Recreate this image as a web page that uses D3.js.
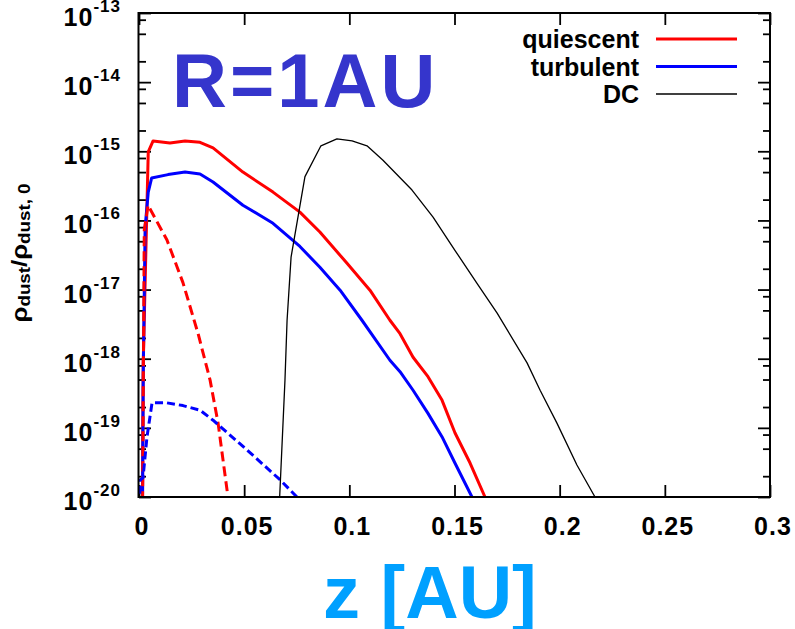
<!DOCTYPE html>
<html>
<head>
<meta charset="utf-8">
<script src="https://cdn.jsdelivr.net/npm/d3@7"></script>
<style>
  body { margin: 0; background: #fff; }
  text { font-family: "Liberation Sans", Arial, sans-serif; font-weight: bold; }
</style>
</head>
<body>
<div id="drawing_region"></div>
<script>
// values (z in AU, rho_dust / rho_dust,0)
var quiescentZ = [0.0016, 0.0020, 0.0044, 0.0067, 0.0147, 0.0219, 0.029, 0.0352, 0.0494, 0.0637, 0.0765, 0.086, 0.0989, 0.1098, 0.1193, 0.1241, 0.1303, 0.1374, 0.1441, 0.1502, 0.1574, 0.1645, 0.1660];
var quiescent  = [3.2e-21, 8.7e-19, 9.8e-16, 1.41e-15, 1.32e-15, 1.41e-15, 1.35e-15, 1.12e-15, 5.0e-16, 2.57e-16, 1.32e-16, 6.8e-17, 2.4e-17, 9.8e-18, 3.6e-18, 2.3e-18, 1.05e-18, 5.5e-19, 2.5e-19, 8.5e-20, 3.1e-20, 1.0e-20, 8.0e-21];

var quiescentSmallZ = [0.0016, 0.0025, 0.0043, 0.0133, 0.0209, 0.0281, 0.0338, 0.0376, 0.0423, 0.0435];
var quiescentSmall  = [3.2e-21, 7.2e-17, 1.66e-16, 5.2e-17, 1.26e-17, 2.3e-18, 4.9e-19, 1.17e-19, 1.0e-20, 5.0e-21];

var turbulentZ = [0.0016, 0.0020, 0.0029, 0.0044, 0.0060, 0.0138, 0.0219, 0.029, 0.0352, 0.0494, 0.0637, 0.0765, 0.086, 0.0956, 0.106, 0.1193, 0.1241, 0.1303, 0.1374, 0.1441, 0.1502, 0.1583, 0.1600];
var turbulent  = [3.2e-21, 5.5e-19, 7.9e-17, 2.57e-16, 4.1e-16, 4.6e-16, 5.0e-16, 4.7e-16, 3.6e-16, 1.66e-16, 9.1e-17, 4.2e-17, 2.1e-17, 9.8e-18, 3.6e-18, 9.5e-19, 6.5e-19, 3.5e-19, 1.62e-19, 7.4e-20, 3.1e-20, 1.0e-20, 8.0e-21];

var turbulentSmallZ = [0.0003, 0.0004, 0.0019, 0.0038, 0.0062, 0.0133, 0.0209, 0.029, 0.0352, 0.0513, 0.067, 0.0751, 0.0780];
var turbulentSmall  = [5.0e-21, 1.74e-20, 1.9e-20, 7.4e-20, 2.3e-19, 2.3e-19, 2.1e-19, 1.8e-19, 1.29e-19, 4.8e-20, 1.78e-20, 1.0e-20, 8.0e-21];

var dcZ = [0.0668, 0.0694, 0.0704, 0.0723, 0.0789, 0.0865, 0.0941, 0.1013, 0.1084, 0.116, 0.1298, 0.1398, 0.1502, 0.1607, 0.1702, 0.1845, 0.1907, 0.1987, 0.2082, 0.2168];
var dc  = [8.9e-21, 4.9e-19, 3.6e-18, 2.95e-17, 4.3e-16, 1.2e-15, 1.51e-15, 1.41e-15, 1.2e-15, 7.4e-16, 2.75e-16, 1.12e-16, 3.7e-17, 1.23e-17, 4.6e-18, 8.7e-19, 3.5e-19, 1.17e-19, 2.9e-20, 1.0e-20];

var xTicks = [0, 0.05, 0.1, 0.15, 0.2, 0.25, 0.3];
var xTickLabels = ["0", "0.05", "0.1", "0.15", "0.2", "0.25", "0.3"];
var yExponents = [-20, -19, -18, -17, -16, -15, -14, -13];
var yMinorMult = [2, 5, 8];
var legendNames = ["quiescent", "turbulent", "DC"];

var width = 795;
var height = 629;

var svg = d3.select("#drawing_region")
    .append("svg")
    .attr("width", width)
    .attr("height", height);

var xScale = d3.scaleLinear().domain([0, 0.3]).range([139, 770]);
var yScale = d3.scaleLog().domain([1e-20, 1e-13]).range([497, 13]);

var majorY = yExponents.map(function (e) { return Math.pow(10, e); });
var minorY = [];
majorY.slice(0, -1).forEach(function (v) {
    yMinorMult.forEach(function (m) { minorY.push(m * v); });
});

svg.append("defs").append("clipPath").attr("id", "plotclip")
    .append("rect")
    .attr("x", xScale(0)).attr("y", yScale(1e-13))
    .attr("width", xScale(0.3) - xScale(0))
    .attr("height", yScale(1e-20) - yScale(1e-13));

// ticks (inward, mirrored on all four sides)
function tickAxis(axis, tx, ty) {
    var g = svg.append("g")
        .attr("transform", "translate(" + tx + "," + ty + ")")
        .call(axis);
    g.select(".domain").remove();
    g.selectAll("line").attr("stroke", "#000").attr("stroke-width", 1.8);
    g.selectAll("text").remove();
}
tickAxis(d3.axisLeft(yScale).tickValues(majorY).tickSize(-12), xScale(0), 0);
tickAxis(d3.axisLeft(yScale).tickValues(minorY).tickSize(-7), xScale(0), 0);
tickAxis(d3.axisRight(yScale).tickValues(majorY).tickSize(-12), xScale(0.3), 0);
tickAxis(d3.axisRight(yScale).tickValues(minorY).tickSize(-7), xScale(0.3), 0);
tickAxis(d3.axisBottom(xScale).tickValues(xTicks).tickSize(-12), 0, yScale(1e-20));
tickAxis(d3.axisTop(xScale).tickValues(xTicks).tickSize(-12), 0, yScale(1e-13));

// curves
var series = [
    { z: quiescentZ,      v: quiescent,      color: "#ff0000", w: 3,   dash: null },
    { z: turbulentZ,      v: turbulent,      color: "#0000ff", w: 3,   dash: null },
    { z: quiescentSmallZ, v: quiescentSmall, color: "#ff0000", w: 3,   dash: "10,5" },
    { z: turbulentSmallZ, v: turbulentSmall, color: "#0000ff", w: 3,   dash: "8,4" },
    { z: dcZ,             v: dc,             color: "#000000", w: 1.3, dash: null }
];

var line = d3.line()
    .x(function (d) { return xScale(d[0]); })
    .y(function (d) { return yScale(d[1]); });

var curves = svg.append("g").attr("clip-path", "url(#plotclip)");
series.forEach(function (s) {
    curves.append("path")
        .datum(d3.zip(s.z, s.v))
        .attr("d", line)
        .attr("fill", "none")
        .attr("stroke", s.color)
        .attr("stroke-width", s.w)
        .attr("stroke-linejoin", "round")
        .attr("stroke-dasharray", s.dash);
});

// frame
svg.append("rect")
    .attr("x", xScale(0) - 0.5).attr("y", yScale(1e-13))
    .attr("width", xScale(0.3) - xScale(0) + 0.5)
    .attr("height", yScale(1e-20) - yScale(1e-13))
    .attr("fill", "none").attr("stroke", "#000").attr("stroke-width", 2);

// x tick labels
svg.append("g").selectAll("text")
    .data(xTicks)
    .enter()
    .append("text")
    .attr("x", function (d) { return xScale(d) + 3; })
    .attr("y", 535)
    .attr("text-anchor", "middle")
    .attr("font-size", 25)
    .attr("letter-spacing", 1)
    .text(function (d, i) { return xTickLabels[i]; });

// y tick labels 10^n
var ylab = svg.append("g").selectAll("text")
    .data(yExponents)
    .enter()
    .append("text")
    .attr("x", 121)
    .attr("y", function (d) { return yScale(Math.pow(10, d)) + 13; })
    .attr("text-anchor", "end")
    .attr("font-size", 25)
    .attr("letter-spacing", 1);
ylab.append("tspan").text("10");
ylab.append("tspan")
    .attr("dy", -14)
    .attr("font-size", 17)
    .attr("letter-spacing", 1)
    .text(function (d) { return "-" + Math.abs(d); });

// axis titles
var yTitle = svg.append("text")
    .attr("transform", "translate(27,253) rotate(-90)")
    .attr("text-anchor", "middle")
    .attr("font-size", 22)
    .attr("textLength", 139)
    .attr("lengthAdjust", "spacingAndGlyphs");
yTitle.append("tspan").text("ρ");
yTitle.append("tspan").attr("font-size", 16).attr("dy", 3).text("dust");
yTitle.append("tspan").attr("dy", -3).text("/ρ");
yTitle.append("tspan").attr("font-size", 16).attr("dy", 3).text("dust, 0");

svg.append("text")
    .attr("x", 323)
    .attr("y", 618)
    .attr("font-size", 74)
    .attr("fill", "#00a0ff")
    .text("z [AU]");

svg.append("text")
    .attr("x", 172)
    .attr("y", 107)
    .attr("font-size", 76)
    .attr("letter-spacing", 3)
    .attr("fill", "#3535cc")
    .text("R=1AU");

// legend
var legend = svg.append("g");
legendNames.forEach(function (name, i) {
    var s = [series[0], series[1], series[4]][i];
    var base = 48 + i * 27.5;
    legend.append("text")
        .attr("x", 639)
        .attr("y", base)
        .attr("text-anchor", "end")
        .attr("font-size", 25)
        .text(name);
    legend.append("line")
        .attr("x1", 656).attr("x2", 737)
        .attr("y1", base - 9).attr("y2", base - 9)
        .attr("stroke", s.color)
        .attr("stroke-width", s.w);
});
</script>
</body>
</html>
